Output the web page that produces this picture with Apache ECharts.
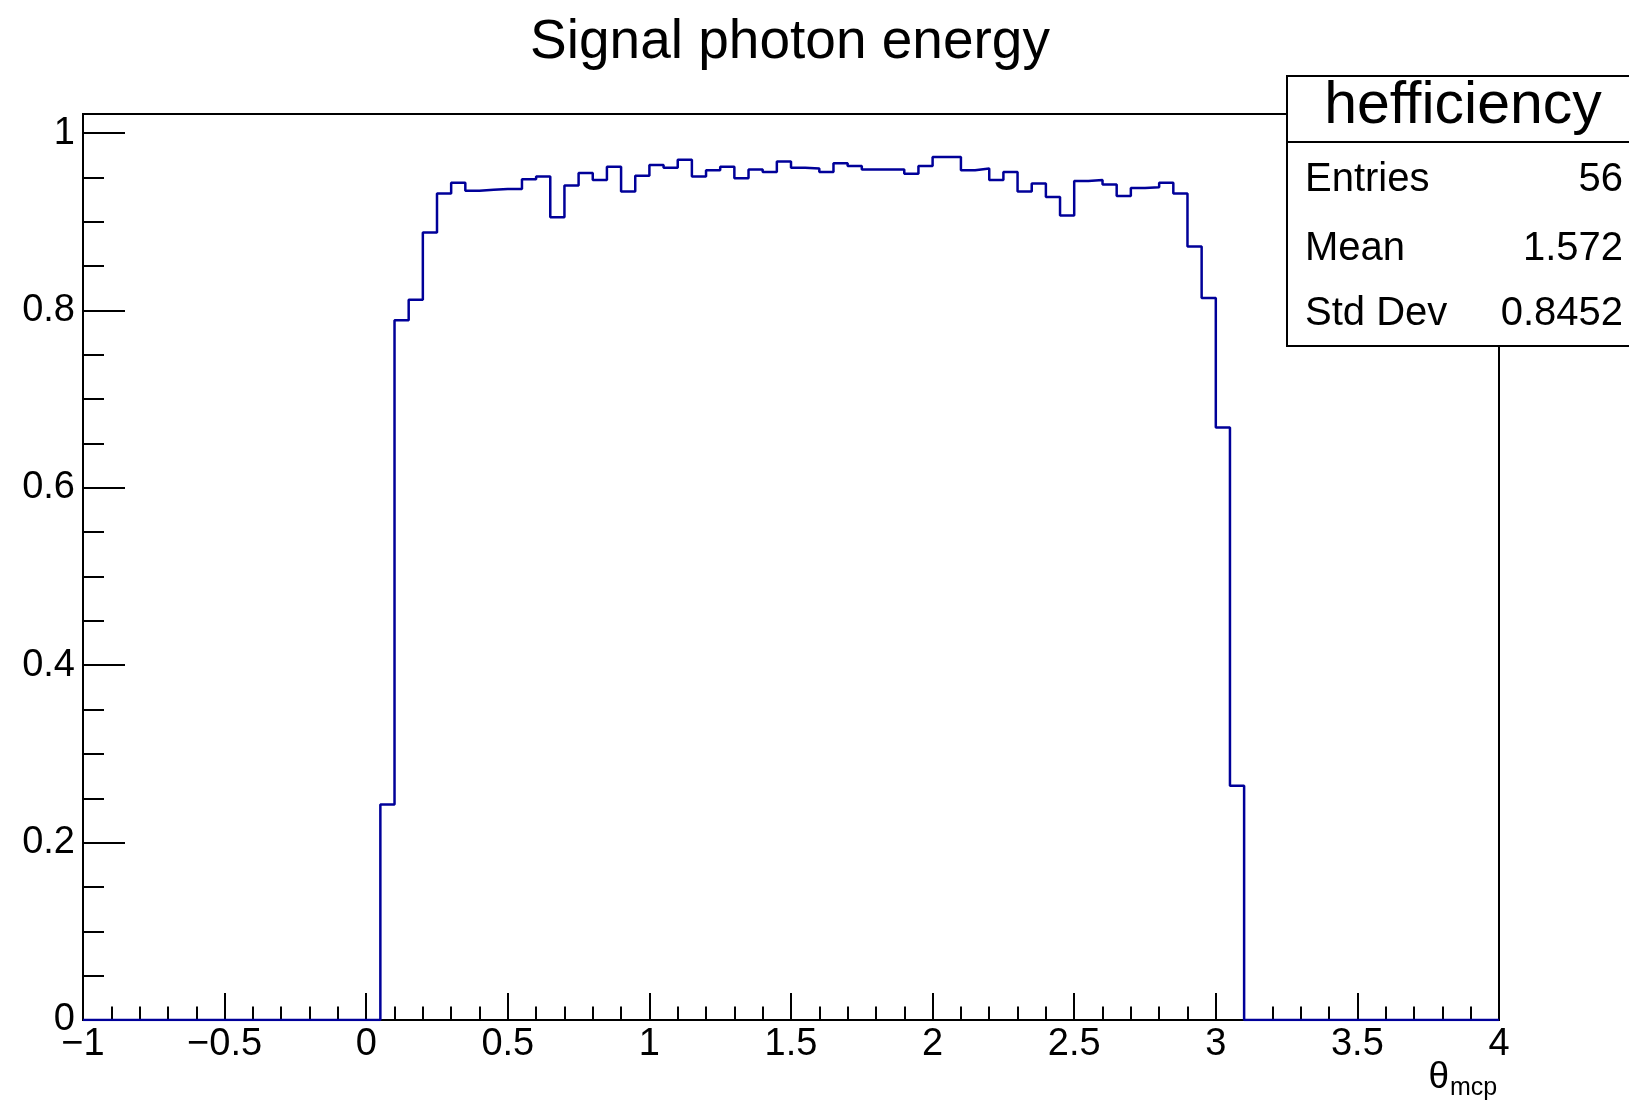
<!DOCTYPE html>
<html><head><meta charset="utf-8">
<script src="https://cdn.jsdelivr.net/npm/echarts@6/dist/echarts.min.js"></script>
<style>html,body{margin:0;padding:0;background:#fff}#c{width:1629px;height:1107px}</style>
</head><body><div id="c"></div>
<script>
// ---- data ----
const xMin = -1, xMax = 4, binWidth = 0.05;
const firstFilledEdge = 0.05;
const efficiency = [
  0.243,
  0.789, 0.812, 0.888, 0.932, 0.944, 0.935, 0.936, 0.937, 0.937, 0.948,
  0.951, 0.905, 0.941, 0.955, 0.947, 0.962, 0.934, 0.952, 0.964, 0.961,
  0.970, 0.951, 0.958, 0.962, 0.949, 0.959, 0.956, 0.968, 0.961, 0.960,
  0.956, 0.966, 0.963, 0.959, 0.959, 0.959, 0.954, 0.963, 0.973, 0.973,
  0.958, 0.960, 0.947, 0.956, 0.934, 0.943, 0.928, 0.907, 0.946, 0.947,
  0.942, 0.929, 0.938, 0.939, 0.944, 0.932, 0.872, 0.814, 0.668, 0.264
];
const yMax = 1.0215;
const titleText = 'Signal photon energy';
const statsName = 'hefficiency';
const statsLabels = ['Entries', 'Mean', 'Std Dev'];
const statsValues = ['56', '1.572', '0.8452'];

// ---- build histogram outline (bin low edges) ----
const nBins = Math.round((xMax - xMin) / binWidth);
const firstIdx = Math.round((firstFilledEdge - xMin) / binWidth);
const histData = [];
for (let i = 0; i < nBins; i++) {
  const edge = Math.round((xMin + i * binWidth) * 1000) / 1000;
  const k = i - firstIdx;
  const v = (k >= 0 && k < efficiency.length) ? efficiency[k] : 0;
  histData.push([edge, v]);
}
histData.push([xMax, 0]);

const FONT = '"Liberation Sans", Arial, Helvetica, sans-serif';
const minus = v => String(v).replace('-', '\u2212');
const rowY = [180, 249, 314];

const chart = echarts.init(document.getElementById('c'), null, {renderer: 'canvas'});
chart.setOption({
  animation: false,
  backgroundColor: '#fff',
  title: {
    text: titleText, left: 785, top: 10, textAlign: 'center',
    textStyle: {fontFamily: FONT, fontSize: 55, fontWeight: 'normal', color: '#000'}
  },
  grid: {
    left: 83, top: 114, width: 1416, height: 906,
    show: true, borderColor: '#000', borderWidth: 2, backgroundColor: 'transparent'
  },
  xAxis: {
    type: 'value', min: xMin, max: xMax, interval: 0.5,
    axisLine: {show: true, onZero: false, lineStyle: {color: '#000', width: 2}},
    axisTick: {show: true, inside: true, length: 27, lineStyle: {color: '#000', width: 2}},
    minorTick: {show: true, splitNumber: 5, length: 13.5, lineStyle: {color: '#000', width: 2}},
    splitLine: {show: false},
    axisLabel: {fontFamily: FONT, fontSize: 38, color: '#000', margin: 6, formatter: minus}
  },
  yAxis: [{
    type: 'value', min: 0, max: yMax, interval: 0.2, position: 'left',
    axisLine: {show: true, onZero: false, lineStyle: {color: '#000', width: 2}},
    axisTick: {show: true, inside: true, length: 42, lineStyle: {color: '#000', width: 2}},
    splitLine: {show: false},
    axisLabel: {fontFamily: FONT, fontSize: 38, color: '#000', margin: 8, showMaxLabel: false, formatter: minus}
  }, {
    type: 'value', min: 0, max: yMax, interval: 0.05, position: 'left', offset: 0,
    axisLine: {show: false, onZero: false},
    axisTick: {show: true, inside: true, length: 21, lineStyle: {color: '#000', width: 2}},
    splitLine: {show: false},
    axisLabel: {show: false}
  }],
  series: [{
    type: 'line', step: 'end', data: histData, xAxisIndex: 0, yAxisIndex: 0,
    showSymbol: false, symbol: 'none',
    lineStyle: {color: '#000099', width: 2.5}, z: 3
  }],
  graphic: [
    {type: 'rect', shape: {x: 1287, y: 76, width: 380, height: 270}, z: 100,
     style: {fill: '#fff', stroke: '#000', lineWidth: 2}},
    {type: 'line', shape: {x1: 1287, y1: 142, x2: 1629, y2: 142}, z: 101,
     style: {stroke: '#000', lineWidth: 2}},
    {type: 'text', x: 1463, y: 107, z: 102,
     style: {text: statsName, font: '59px ' + FONT, fill: '#000', textAlign: 'center', textVerticalAlign: 'middle'}},
    ...statsLabels.map((t, i) => ({type: 'text', x: 1305, y: rowY[i], z: 102,
     style: {text: t, font: '40px ' + FONT, fill: '#000', textAlign: 'left', textVerticalAlign: 'middle'}})),
    ...statsValues.map((t, i) => ({type: 'text', x: 1623, y: rowY[i], z: 102,
     style: {text: t, font: '40px ' + FONT, fill: '#000', textAlign: 'right', textVerticalAlign: 'middle'}})),
    {type: 'text', x: 1449, y: 1078, z: 102,
     style: {text: 'θ', font: '37px ' + FONT, fill: '#000', textAlign: 'right', textVerticalAlign: 'middle'}},
    {type: 'text', x: 1450, y: 1088, z: 102,
     style: {text: 'mcp', font: '25px ' + FONT, fill: '#000', textAlign: 'left', textVerticalAlign: 'middle'}}
  ]
});
</script></body></html>
